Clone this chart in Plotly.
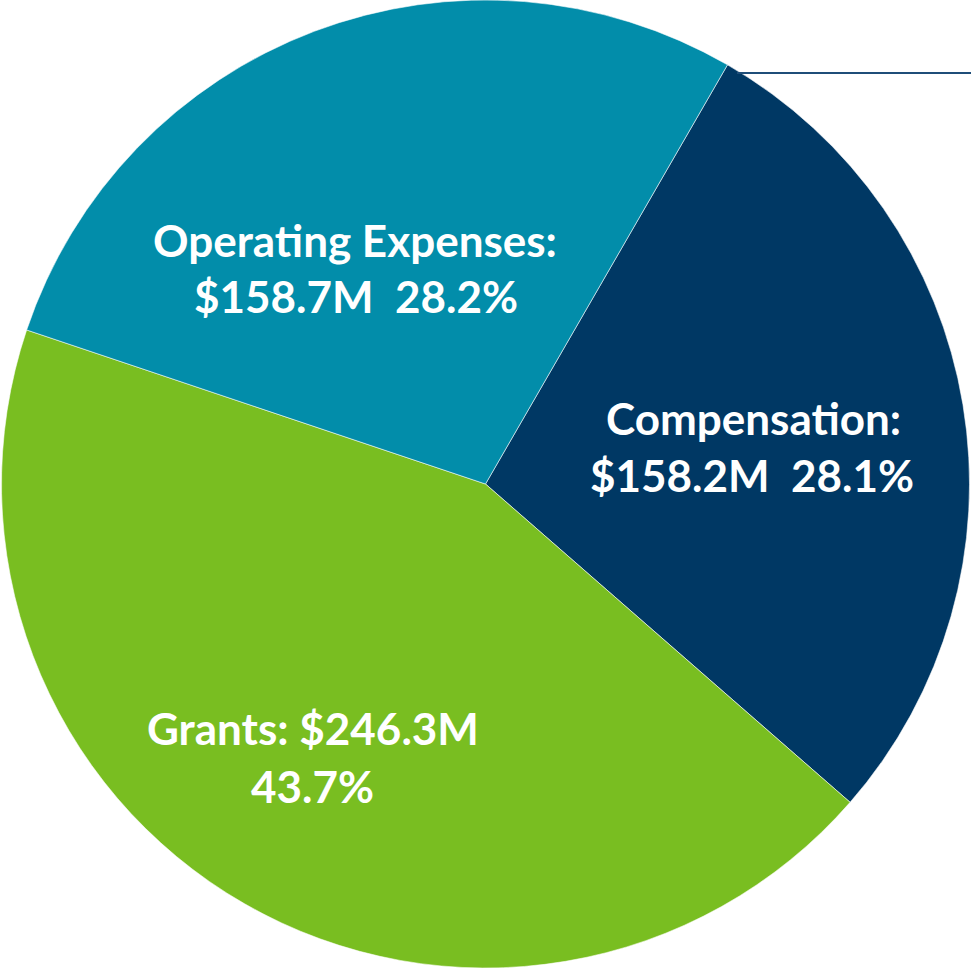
import plotly.graph_objects as go

categories = ["Compensation", "Grants", "Operating Expenses"]
values = [158.2, 246.3, 158.7]
amount_labels = ["$158.2M", "$246.3M", "$158.7M"]
percent_labels = ["28.1%", "43.7%", "28.2%"]
colors = ["#003864", "#79BE21", "#028DAA"]

fig = go.Figure(go.Pie(
    labels=categories,
    values=values,
    sort=False,
    direction="clockwise",
    rotation=30,
    marker=dict(colors=colors, line=dict(color="rgba(255,255,255,0.55)", width=1)),
    textinfo="none",
    hoverinfo="label+value+percent",
    showlegend=False,
    domain=dict(x=[0, 1], y=[0, 1]),
))

W, H = 971, 968
font = dict(family="Lato", size=44, color="white")

def ann(text, px, py):
    return dict(text="<b>%s</b>" % text, x=px / W, y=1 - py / H, xref="paper", yref="paper",
                xanchor="center", yanchor="middle", showarrow=False, font=font)

annotations = [
    ann(categories[2] + ":", 355, 240),
    ann(amount_labels[2] + "&nbsp;&nbsp;" + percent_labels[2], 356, 296),
    ann(categories[0] + ":", 753, 418),
    ann(amount_labels[0] + "&nbsp;&nbsp;" + percent_labels[0], 752, 475),
    ann(categories[1] + ": " + amount_labels[1], 313, 728),
    ann(percent_labels[1], 312, 786),
]

fig.update_layout(
    width=W, height=H,
    margin=dict(l=0, r=0, t=0, b=0),
    paper_bgcolor="white", plot_bgcolor="white",
    annotations=annotations,
    shapes=[dict(type="line", xref="paper", yref="paper",
                 x0=737 / W, x1=1, y0=1 - 73 / H, y1=1 - 73 / H,
                 line=dict(color="#1F4E79", width=2))],
)

fig.write_html("out.html", config={"displayModeBar": False},
               post_script="document.body.style.margin='0';document.body.style.overflow='hidden';")
